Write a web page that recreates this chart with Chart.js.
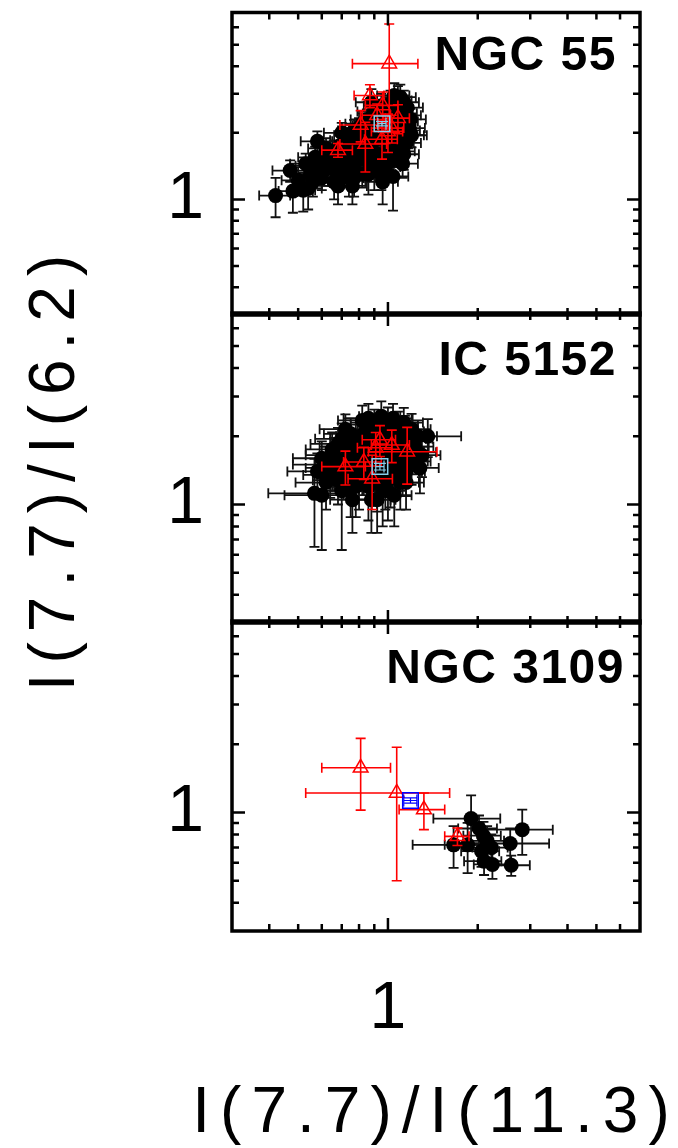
<!DOCTYPE html>
<html>
<head>
<meta charset="utf-8">
<script src="https://cdn.jsdelivr.net/npm/chart.js@4.4.1/dist/chart.umd.min.js"></script>
<style>
html,body{margin:0;padding:0;background:#fff;width:678px;height:1148px;overflow:hidden;}
canvas{position:absolute;left:0;top:0;}
</style>
</head>
<body>
<canvas id="c1" width="678" height="1148"></canvas>
<canvas id="c2" width="678" height="1148"></canvas>
<canvas id="c3" width="678" height="1148"></canvas>
<script>
// ---------------- data ----------------
const axisRange = [0.3, 7];
const tickMajor = [1];
const tickMinor = [0.4, 0.5, 0.6, 0.7, 0.8, 0.9, 2, 3, 4, 5, 6];
const xTitle = 'I(7.7)/I(11.3)';
const yTitle = 'I(7.7)/I(6.2)';
const panelNames = ['NGC 55', 'IC 5152', 'NGC 3109'];

// NGC 55
const n55BlackX = [0.42,0.47,0.48,0.52,0.54,0.53,0.56,0.58,0.60,0.60,0.63,0.65,0.66,0.68,0.70,0.72,0.74,0.75,0.76,0.78,0.80,0.80,0.82,0.83,0.85,0.85,0.87,0.88,0.90,0.90,0.92,0.93,0.95,0.95,0.96,0.98,1.00,1.00,1.02,1.03,1.04,1.05,1.06,1.08,1.10,1.10,1.12,1.15,1.15,1.18,1.20,0.70,0.88,1.08,0.62,0.98,1.12,0.72,0.66,0.90,0.77,1.00,0.82,1.05,0.56,
  0.50,0.55,0.57,0.61,0.64,0.67,0.69,0.71,0.73,0.74,0.77,0.79,0.81,0.83,0.84,0.86,0.87,0.89,0.91,0.93,0.94,0.97,0.99,1.01,1.03,1.05,1.07,1.09,1.10,1.11,1.13,1.14,1.16,1.17,1.19,1.13,0.96,0.86,0.76,0.68];
const n55BlackY = [1.04,1.35,1.09,1.10,1.12,1.45,1.42,1.83,1.40,1.25,1.55,1.38,1.65,1.48,1.30,1.72,1.55,1.95,1.40,1.80,2.10,1.60,1.30,1.90,2.30,1.70,1.45,2.05,2.50,1.85,1.60,2.20,1.30,2.65,1.95,2.40,1.75,2.10,2.70,1.50,1.27,2.30,1.90,2.55,2.00,1.65,2.25,2.40,1.80,2.10,1.95,2.00,2.75,2.80,1.70,1.40,1.45,1.40,1.20,1.35,1.25,2.45,2.20,1.65,1.20,
  1.22,1.30,1.55,1.35,1.45,1.55,1.75,1.60,1.85,1.25,2.05,1.50,1.85,1.55,2.00,2.15,1.75,1.60,2.35,1.90,1.45,2.20,1.60,1.95,2.40,2.95,2.15,1.80,2.90,2.45,2.75,2.05,2.60,1.95,2.30,1.60,1.20,1.30,1.15,1.15];
const n55BlackXErr = [0.05,0.06,0.05,0.05,0.06,0.06,0.07,0.07,0.06,0.07,0.07,0.08,0.08,0.08,0.08,0.09,0.09,0.09,0.09,0.09,0.10,0.10,0.10,0.10,0.10,0.10,0.10,0.11,0.11,0.11,0.11,0.11,0.11,0.12,0.12,0.12,0.12,0.12,0.12,0.12,0.13,0.13,0.13,0.13,0.14,0.13,0.14,0.14,0.14,0.15,0.15,0.09,0.10,0.12,0.08,0.12,0.14,0.08,0.08,0.10,0.09,0.12,0.10,0.13,0.07,
  0.06,0.06,0.07,0.07,0.07,0.08,0.08,0.08,0.09,0.09,0.09,0.09,0.10,0.10,0.10,0.10,0.10,0.11,0.11,0.11,0.11,0.12,0.12,0.12,0.12,0.13,0.13,0.13,0.14,0.14,0.14,0.14,0.15,0.15,0.15,0.14,0.12,0.10,0.09,0.08];
const n55BlackYErr = [0.21,0.15,0.22,0.22,0.22,0.16,0.17,0.20,0.16,0.15,0.18,0.16,0.19,0.18,0.16,0.20,0.19,0.22,0.17,0.21,0.23,0.20,0.17,0.22,0.25,0.20,0.18,0.23,0.30,0.22,0.20,0.24,0.20,0.35,0.23,0.25,0.21,0.24,0.40,0.20,0.38,0.25,0.22,0.30,0.23,0.21,0.25,0.26,0.22,0.24,0.23,0.22,0.40,0.45,0.19,0.18,0.20,0.20,0.20,0.25,0.22,0.30,0.25,0.22,0.17,
  0.18,0.18,0.18,0.20,0.20,0.20,0.20,0.20,0.22,0.22,0.24,0.20,0.22,0.22,0.24,0.25,0.22,0.22,0.28,0.24,0.22,0.26,0.22,0.24,0.28,0.40,0.26,0.24,0.40,0.28,0.35,0.25,0.30,0.25,0.27,0.24,0.25,0.25,0.20,0.20];
const n55RedX = [1.01,0.87,0.96,1.08,0.68,0.84,0.955,0.81,1.00,0.92,1.03];
const n55RedY = [4.11,2.95,2.66,2.33,1.67,1.78,1.87,2.17,2.03,2.40,2.10];
const n55RedXErr = [0.25,0.10,0.12,0.10,0.08,0.15,0.12,0.12,0.12,0.10,0.10];
const n55RedYErr = [2.10,0.35,0.40,0.35,0.12,0.45,0.35,0.35,0.40,0.30,0.30];
const n55MeanX = [0.955];
const n55MeanY = [2.2];
const n55MeanXErr = [0.03];
const n55MeanYErr = [0.05];

// IC 5152
const ic5152BlackX = [0.567,0.60,0.70,1.36,0.62,0.64,0.66,0.68,0.70,0.72,0.74,0.75,0.76,0.78,0.80,0.80,0.82,0.84,0.85,0.86,0.87,0.88,0.90,0.91,0.92,0.94,0.95,0.96,0.98,1.00,1.00,1.02,1.03,1.05,1.06,1.08,1.10,1.12,1.14,1.15,1.18,1.20,1.22,1.25,0.82,0.95,0.70,0.88,1.05,0.65,1.28,0.58,0.76,0.98,1.10,
  0.62,0.66,0.68,0.71,0.73,0.75,0.77,0.79,0.81,0.83,0.84,0.86,0.87,0.89,0.90,0.92,0.93,0.95,0.97,0.99,1.01,1.02,1.04,1.06,1.07,1.09,1.11,1.13,1.16,1.17,1.20,1.23,1.26,1.30,0.78,0.92,1.00,1.15,0.72,0.60];
const ic5152BlackY = [1.12,1.10,1.15,2.00,1.50,1.35,1.65,1.28,1.55,1.80,1.40,1.20,1.65,1.95,1.50,1.30,1.75,2.10,1.45,1.20,1.90,1.60,2.25,1.35,1.75,2.00,1.50,1.15,1.85,2.30,1.60,1.30,2.05,1.75,1.45,2.20,1.90,1.60,2.10,1.40,1.80,1.55,1.95,1.70,2.35,2.45,1.95,1.05,1.10,1.75,1.45,1.40,1.05,1.25,1.25,
  1.25,1.45,1.85,1.35,1.60,2.05,1.45,1.75,2.00,1.40,1.60,2.40,1.35,1.85,2.05,1.25,1.60,2.20,1.70,2.05,1.45,1.90,2.40,1.60,2.00,1.40,1.75,2.30,1.95,1.55,2.15,1.80,2.00,1.65,1.20,1.05,1.15,1.25,2.15,1.60];
const ic5152BlackXErr = [0.17,0.15,0.12,0.40,0.14,0.12,0.13,0.12,0.13,0.13,0.13,0.13,0.14,0.14,0.14,0.14,0.14,0.15,0.15,0.15,0.15,0.15,0.15,0.15,0.16,0.16,0.16,0.16,0.16,0.17,0.17,0.17,0.17,0.17,0.17,0.18,0.18,0.18,0.18,0.18,0.19,0.19,0.19,0.20,0.14,0.15,0.13,0.14,0.15,0.12,0.20,0.12,0.12,0.16,0.17,
  0.13,0.13,0.13,0.13,0.13,0.14,0.14,0.14,0.14,0.15,0.15,0.15,0.15,0.15,0.15,0.15,0.16,0.16,0.16,0.16,0.17,0.17,0.17,0.17,0.17,0.18,0.18,0.18,0.18,0.19,0.19,0.19,0.20,0.20,0.13,0.14,0.15,0.17,0.13,0.12];
const ic5152BlackYErr = [0.47,0.47,0.52,0.38,0.30,0.28,0.32,0.28,0.30,0.33,0.30,0.32,0.32,0.35,0.30,0.35,0.33,0.36,0.30,0.35,0.35,0.32,0.37,0.30,0.34,0.36,0.31,0.35,0.35,0.38,0.32,0.33,0.36,0.34,0.31,0.37,0.35,0.33,0.36,0.31,0.34,0.33,0.35,0.34,0.38,0.40,0.33,0.30,0.30,0.33,0.33,0.28,0.30,0.30,0.30,
  0.30,0.30,0.33,0.30,0.32,0.35,0.30,0.33,0.35,0.30,0.32,0.38,0.30,0.35,0.36,0.32,0.32,0.37,0.33,0.36,0.31,0.35,0.38,0.33,0.36,0.31,0.34,0.37,0.35,0.33,0.36,0.34,0.35,0.33,0.32,0.30,0.30,0.30,0.35,0.30];
const ic5152RedX = [0.72,0.885,0.91,1.03,1.16,0.83,0.94];
const ic5152RedY = [1.47,1.30,1.78,1.83,1.71,1.54,1.93];
const ic5152RedXErr = [0.12,0.15,0.12,0.15,0.30,0.12,0.12];
const ic5152RedYErr = [0.25,0.35,0.30,0.30,0.48,0.25,0.30];
const ic5152MeanX = [0.94];
const ic5152MeanY = [1.47];
const ic5152MeanXErr = [0.03];
const ic5152MeanYErr = [0.05];

// NGC 3109
const n3109BlackX = [1.90,2.09,2.15,1.66,1.85,2.06,2.10,2.24,2.57,2.82,2.59,2.22,2.02];
const n3109BlackY = [0.94,0.79,0.75,0.72,0.72,0.675,0.61,0.59,0.73,0.84,0.585,0.70,0.85];
const n3109BlackXErr = [0.48,0.30,0.30,0.45,0.30,0.30,0.30,0.30,0.90,0.75,0.40,0.30,0.30];
const n3109BlackYErr = [0.25,0.12,0.12,0.15,0.18,0.10,0.08,0.08,0.12,0.19,0.06,0.10,0.12];
const n3109RedX = [0.81,1.07,1.32,1.71];
const n3109RedY = [1.575,1.22,1.03,0.785];
const n3109RedXErr = [0.21,0.54,0.23,0.16];
const n3109RedYErr = [0.55,0.72,0.19,0.07];
const n3109MeanX = [1.19];
const n3109MeanY = [1.13];
const n3109MeanXErr = [0.06];
const n3109MeanYErr = [0.03];

// ---------------- rendering ----------------
const FONT = '"Liberation Sans", Arial, sans-serif';
Chart.defaults.font.family = FONT;
Chart.defaults.color = '#000';

function pts(xs, ys) { return xs.map((x, i) => ({x: x, y: ys[i]})); }

const errPlugin = {
  id: 'errbars',
  beforeDatasetDraw(chart, args) {
    const ds = chart.data.datasets[args.index];
    if (!ds.xErr) return;
    const {ctx, chartArea: a} = chart;
    const xs = chart.scales.x, ys = chart.scales.y;
    ctx.save();
    ctx.beginPath();
    ctx.rect(a.left, a.top, a.right - a.left, a.bottom - a.top);
    ctx.clip();
    ctx.strokeStyle = ds.errColor;
    ctx.lineWidth = ds.errWidth;
    const c = ds.cap;
    ds.data.forEach((p, i) => {
      const px = xs.getPixelForValue(p.x), py = ys.getPixelForValue(p.y);
      const x0 = xs.getPixelForValue(p.x - ds.xErr[i]), x1 = xs.getPixelForValue(p.x + ds.xErr[i]);
      const y0 = ys.getPixelForValue(p.y - ds.yErr[i]), y1 = ys.getPixelForValue(p.y + ds.yErr[i]);
      ctx.beginPath();
      ctx.moveTo(x0, py); ctx.lineTo(x1, py);
      ctx.moveTo(x0, py - c); ctx.lineTo(x0, py + c);
      ctx.moveTo(x1, py - c); ctx.lineTo(x1, py + c);
      ctx.moveTo(px, y0); ctx.lineTo(px, y1);
      ctx.moveTo(px - c, y0); ctx.lineTo(px + c, y0);
      ctx.moveTo(px - c, y1); ctx.lineTo(px + c, y1);
      ctx.stroke();
    });
    ctx.restore();
  }
};

const framePlugin = {
  id: 'frame',
  afterDraw(chart, args, opts) {
    const {ctx, chartArea: a} = chart;
    const xs = chart.scales.x, ys = chart.scales.y;
    ctx.save();
    ctx.strokeStyle = '#000';
    ctx.lineCap = 'butt';
    ctx.lineWidth = 2.5;
    const drawTicks = (vals, len) => {
      ctx.beginPath();
      vals.forEach(v => {
        const px = xs.getPixelForValue(v);
        ctx.moveTo(px, a.bottom); ctx.lineTo(px, a.bottom - len);
        ctx.moveTo(px, a.top); ctx.lineTo(px, a.top + len);
        const py = ys.getPixelForValue(v);
        ctx.moveTo(a.left, py); ctx.lineTo(a.left + len, py);
        ctx.moveTo(a.right, py); ctx.lineTo(a.right - len, py);
      });
      ctx.stroke();
    };
    drawTicks(tickMinor, 7);
    drawTicks(tickMajor, 13);
    ctx.lineWidth = 3.5;
    ctx.strokeRect(a.left, a.top, a.right - a.left, a.bottom - a.top);

    ctx.fillStyle = '#000';
    // panel label
    ctx.letterSpacing = '1.5px';
    ctx.font = 'bold 48px ' + FONT;
    ctx.textAlign = 'right';
    ctx.textBaseline = 'alphabetic';
    ctx.fillText(opts.label, opts.labelRight, a.top + opts.labelBase);

    // axis titles (wide letter spacing, like the original vector font)
    ctx.font = '64px ' + FONT;
    ctx.letterSpacing = '10px';
    ctx.textAlign = 'center';
    if (opts.xTitle) {
      ctx.fillText(xTitle, (a.left + a.right) / 2, 1132);
    }
    if (opts.yTitle) {
      ctx.translate(74, (a.top + a.bottom) / 2);
      ctx.rotate(-Math.PI / 2);
      ctx.fillText(yTitle, 0, 0);
    }
    ctx.restore();
  }
};

function zeroPad(s) {
  s.paddingTop = 0; s.paddingBottom = 0; s.paddingLeft = 0; s.paddingRight = 0;
}

function makePanel(p) {
  const datasets = [
    {
      data: pts(p.mean[0], p.mean[1]), xErr: p.mean[2], yErr: p.mean[3],
      errColor: p.meanColor, errWidth: 1.2, cap: 6,
      pointStyle: 'rect', pointRadius: 11, borderColor: p.meanColor, borderWidth: 1.5,
      backgroundColor: 'rgba(0,0,0,0)', order: 0
    },
    {
      data: pts(p.red[0], p.red[1]), xErr: p.red[2], yErr: p.red[3],
      errColor: '#ff0000', errWidth: 1.6, cap: 5,
      pointStyle: 'triangle', pointRadius: 8.5, borderColor: '#ff0000', borderWidth: 1.5,
      backgroundColor: 'rgba(0,0,0,0)', order: 1
    },
    {
      data: pts(p.black[0], p.black[1]), xErr: p.black[2], yErr: p.black[3],
      errColor: '#111111', errWidth: 1.8, cap: 5,
      pointStyle: 'circle', pointRadius: 7.5, borderWidth: 0,
      backgroundColor: '#000000', order: 2
    }
  ];
  return new Chart(document.getElementById(p.id), {
    type: 'scatter',
    data: {datasets: datasets},
    options: {
      responsive: false,
      animation: false,
      events: [],
      layout: {padding: {top: p.top, bottom: p.bottom, left: 0, right: 38}},
      plugins: {
        legend: {display: false},
        tooltip: {enabled: false},
        frame: {label: p.name, labelRight: p.labelRight, labelBase: p.labelBase, xTitle: p.showXTitle, yTitle: p.showYTitle}
      },
      scales: {
        x: {
          type: 'logarithmic', min: axisRange[0], max: axisRange[1],
          display: p.showX,
          grid: {display: false, drawTicks: false},
          border: {display: false},
          ticks: {
            autoSkip: false, maxRotation: 0, padding: 39,
            font: {size: 66}, color: '#000',
            callback: v => (Math.abs(v - 1) < 1e-6 ? '1' : '')
          },
          afterFit: s => { zeroPad(s); if (p.showX) s.height = 217; }
        },
        y: {
          type: 'logarithmic', min: axisRange[0], max: axisRange[1],
          grid: {display: false, drawTicks: false},
          border: {display: false},
          ticks: {
            autoSkip: false, padding: 28,
            font: {size: 66}, color: '#000',
            callback: v => (Math.abs(v - 1) < 1e-6 ? '1' : '')
          },
          afterFit: s => { zeroPad(s); s.width = 232; }
        }
      }
    },
    plugins: [errPlugin, framePlugin]
  });
}

const panels = [
  {id: 'c1', name: panelNames[0], showX: false, showXTitle: false, showYTitle: false, top: 5, bottom: 833, labelRight: 617, labelBase: 57,
   black: [n55BlackX, n55BlackY, n55BlackXErr, n55BlackYErr],
   red: [n55RedX, n55RedY, n55RedXErr, n55RedYErr],
   mean: [n55MeanX, n55MeanY, n55MeanXErr, n55MeanYErr], meanColor: '#87CEEB'},
  {id: 'c2', name: panelNames[1], showX: false, showXTitle: false, showYTitle: true, top: 313, bottom: 525, labelRight: 617, labelBase: 62,
   black: [ic5152BlackX, ic5152BlackY, ic5152BlackXErr, ic5152BlackYErr],
   red: [ic5152RedX, ic5152RedY, ic5152RedXErr, ic5152RedYErr],
   mean: [ic5152MeanX, ic5152MeanY, ic5152MeanXErr, ic5152MeanYErr], meanColor: '#87CEEB'},
  {id: 'c3', name: panelNames[2], showX: true, showXTitle: true, showYTitle: false, top: 621, bottom: 0, labelRight: 625, labelBase: 62,
   black: [n3109BlackX, n3109BlackY, n3109BlackXErr, n3109BlackYErr],
   red: [n3109RedX, n3109RedY, n3109RedXErr, n3109RedYErr],
   mean: [n3109MeanX, n3109MeanY, n3109MeanXErr, n3109MeanYErr], meanColor: '#0000ff'}
];
panels.forEach(makePanel);
</script>
</body>
</html>
